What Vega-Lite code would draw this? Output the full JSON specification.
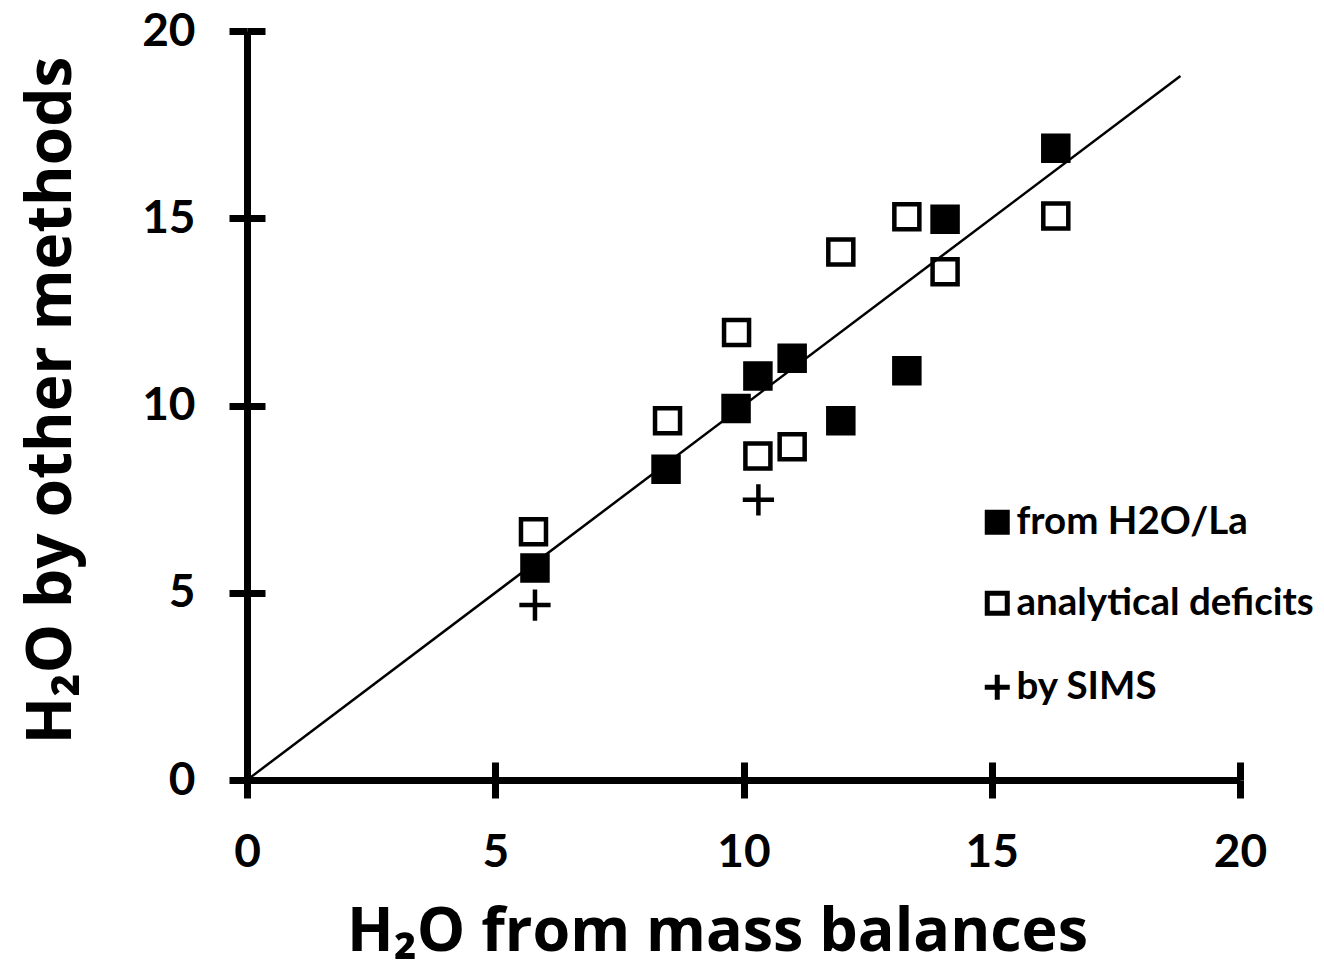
{
  "$schema": "https://vega.github.io/schema/vega-lite/v6.json",
  "autosize": {"type": "none"},
  "padding": {"left": 247, "top": 31, "right": 84, "bottom": 190},
  "width": 993,
  "height": 749,
  "background": "white",
  "config": {
    "view": {"stroke": null},
    "font": "Lato",
    "axis": {"grid": false, "domainColor": "black", "tickColor": "black", "labelColor": "black", "titleColor": "black"},
    "legend": {"symbolStrokeWidth": 5, "symbolStrokeColor": "black", "symbolOpacity": 1}
  },
  "datasets": {
    "samples": [
      {"mass_balance": 5.80, "other": 5.66, "method": "from H2O/La"},
      {"mass_balance": 8.44, "other": 8.30, "method": "from H2O/La"},
      {"mass_balance": 9.85, "other": 9.92, "method": "from H2O/La"},
      {"mass_balance": 10.29, "other": 10.79, "method": "from H2O/La"},
      {"mass_balance": 10.98, "other": 11.26, "method": "from H2O/La"},
      {"mass_balance": 11.96, "other": 9.59, "method": "from H2O/La"},
      {"mass_balance": 13.29, "other": 10.93, "method": "from H2O/La"},
      {"mass_balance": 14.06, "other": 14.97, "method": "from H2O/La"},
      {"mass_balance": 16.29, "other": 16.87, "method": "from H2O/La"},
      {"mass_balance": 5.77, "other": 6.63, "method": "analytical deficits"},
      {"mass_balance": 8.47, "other": 9.59, "method": "analytical deficits"},
      {"mass_balance": 9.86, "other": 11.95, "method": "analytical deficits"},
      {"mass_balance": 10.29, "other": 8.65, "method": "analytical deficits"},
      {"mass_balance": 10.98, "other": 8.90, "method": "analytical deficits"},
      {"mass_balance": 11.96, "other": 14.10, "method": "analytical deficits"},
      {"mass_balance": 13.29, "other": 15.04, "method": "analytical deficits"},
      {"mass_balance": 14.06, "other": 13.57, "method": "analytical deficits"},
      {"mass_balance": 16.29, "other": 15.06, "method": "analytical deficits"},
      {"mass_balance": 5.80, "other": 4.67, "method": "by SIMS"},
      {"mass_balance": 10.30, "other": 7.48, "method": "by SIMS"}
    ],
    "one_to_one": [
      {"mass_balance": 0, "other": 0},
      {"mass_balance": 18.8, "other": 18.8}
    ]
  },
  "resolve": {"axis": {"x": "independent", "y": "independent"}},
  "layer": [
    {
      "data": {"name": "samples"},
      "mark": {"type": "point", "filled": true, "stroke": "black", "strokeWidth": 4.5, "opacity": 1, "size": 625},
      "encoding": {
        "x": {
          "field": "mass_balance", "type": "quantitative",
          "scale": {"domain": [0, 20], "nice": false, "zero": false},
          "axis": {
            "orient": "bottom", "values": [0, 5, 10, 15, 20],
            "title": "H₂O from mass balances",
            "titleFont": "Open Sans", "titleFontSize": 61, "titleFontWeight": "bold",
            "titleX": 470, "titleY": 170, "titleAnchor": "middle", "titleAlign": "center", "titleBaseline": "alphabetic",
            "labelFont": "Lato", "labelFontSize": 46, "labelFontWeight": "bold", "labelPadding": 32,
            "labelFlush": false, "labelOverlap": false,
            "domainWidth": 7, "tickWidth": 7, "tickSize": 18
          }
        },
        "y": {
          "field": "other", "type": "quantitative",
          "scale": {"domain": [0, 20], "nice": false, "zero": false},
          "axis": {
            "orient": "left", "values": [0, 5, 10, 15, 20],
            "title": "H₂O by other methods",
            "titleFont": "Open Sans", "titleFontSize": 62, "titleFontWeight": "bold",
            "titleX": -177, "titleY": 369, "titleAngle": -90, "titleAlign": "center", "titleBaseline": "alphabetic",
            "labelFont": "Lato", "labelFontSize": 46, "labelFontWeight": "bold", "labelPadding": 34,
            "labelFlush": false, "labelOverlap": false,
            "domainWidth": 7, "tickWidth": 7, "tickSize": 18
          }
        },
        "shape": {
          "field": "method", "type": "nominal",
          "scale": {
            "domain": ["from H2O/La", "analytical deficits", "by SIMS"],
            "range": ["square", "square", "M-1.25,0H1.25M0,-1.25V1.25"]
          },
          "legend": {
            "title": null, "orient": "none", "legendX": 731, "legendY": 472, "padding": 0,
            "labelFont": "Lato", "labelFontSize": 38.5, "labelFontWeight": "bold", "labelColor": "black",
            "labelLimit": 500, "labelOffset": 0, "rowPadding": 40, "symbolSize": 400,
            "symbolStrokeWidth": 5, "symbolStrokeColor": "black",
            "encode": {"symbols": {"update": {"stroke": {"value": "black"}, "strokeWidth": {"value": 5}, "opacity": {"value": 1}}}}
          }
        },
        "fill": {
          "field": "method", "type": "nominal",
          "scale": {
            "domain": ["from H2O/La", "analytical deficits", "by SIMS"],
            "range": ["black", "white", "black"]
          },
          "legend": {
            "title": null, "orient": "none", "legendX": 731, "legendY": 472, "padding": 0,
            "labelFont": "Lato", "labelFontSize": 38.5, "labelFontWeight": "bold", "labelColor": "black",
            "labelLimit": 500, "labelOffset": 0, "rowPadding": 40, "symbolSize": 400,
            "symbolStrokeWidth": 5, "symbolStrokeColor": "black",
            "encode": {"symbols": {"update": {"stroke": {"value": "black"}, "strokeWidth": {"value": 5}, "opacity": {"value": 1}}}}
          }
        }
      }
    },
    {
      "data": {"name": "one_to_one"},
      "mark": {"type": "line", "color": "black", "strokeWidth": 2.5},
      "encoding": {
        "x": {
          "field": "mass_balance", "type": "quantitative",
          "axis": {"orient": "bottom", "offset": -18, "values": [0, 5, 10, 15, 20], "domain": false, "labels": false, "title": null, "tickWidth": 7, "tickSize": 18}
        },
        "y": {
          "field": "other", "type": "quantitative",
          "axis": {"orient": "left", "offset": -18, "values": [0, 5, 10, 15, 20], "domain": false, "labels": false, "title": null, "tickWidth": 7, "tickSize": 18}
        }
      }
    }
  ]
}
